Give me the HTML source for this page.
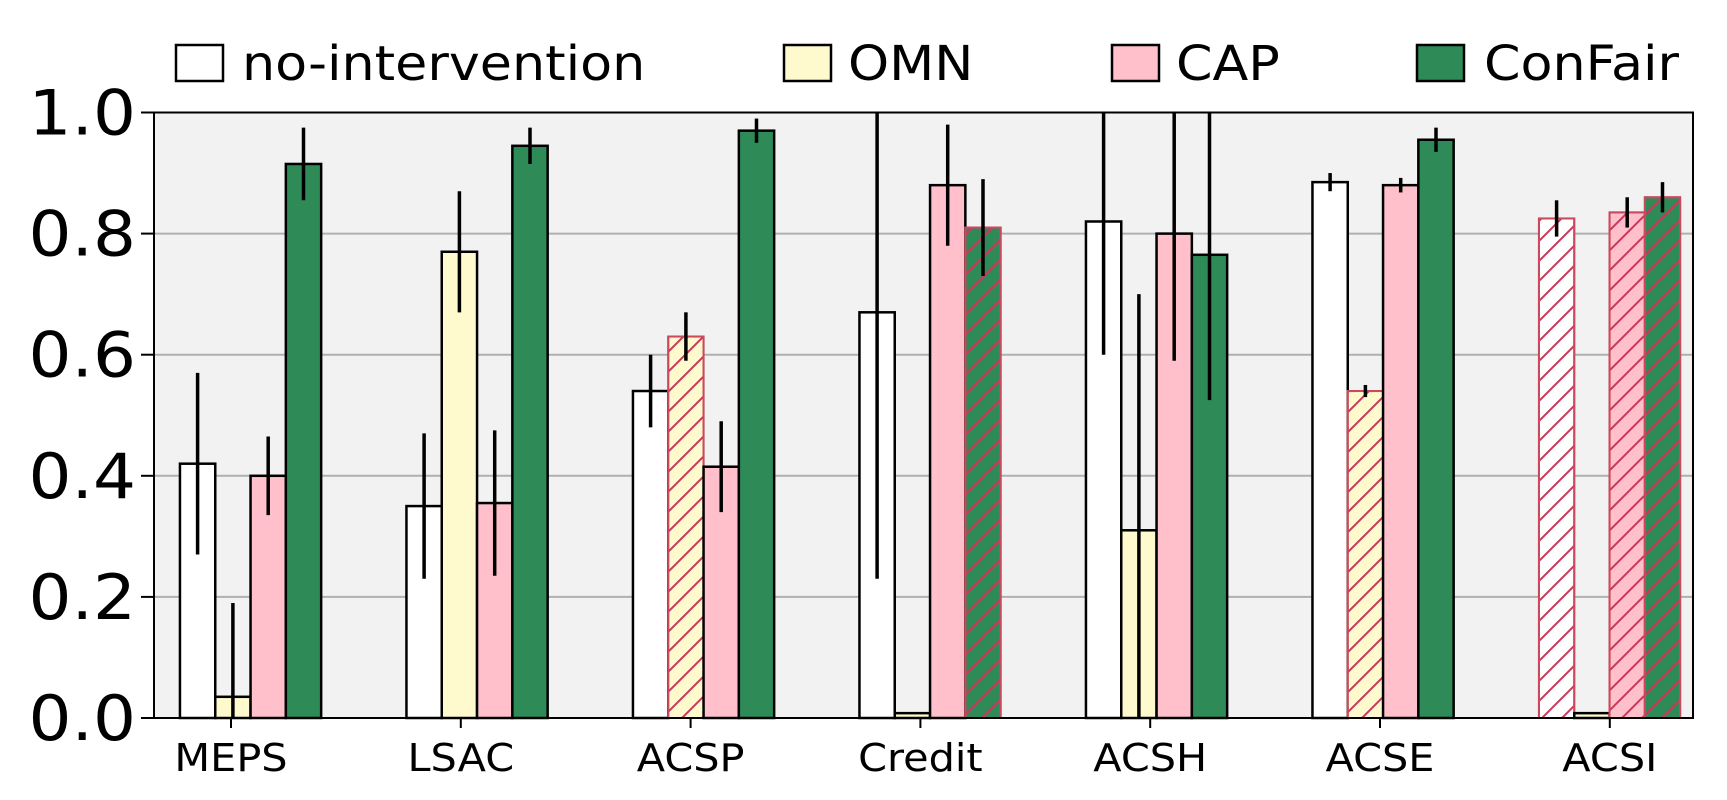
<!DOCTYPE html>
<html><head><meta charset="utf-8">
<style>
html,body{margin:0;padding:0;background:#fff;}
svg{display:block;font-family:"DejaVu Sans","Liberation Sans",sans-serif;}
</style></head>
<body>
<svg id="chart" width="1727" height="800" viewBox="0 0 1727 800" xmlns="http://www.w3.org/2000/svg">
<defs>
<pattern id="hatch" patternUnits="userSpaceOnUse" width="20" height="20">
<path d="M-2,2 L2,-2 M0,20 L20,0 M18,22 L22,18" stroke="#c8385a" stroke-width="2"/>
</pattern>
</defs>
<rect x="154" y="112.5" width="1539" height="605.5" fill="#f2f2f2"/>
<g id="grid"></g>
<g id="bars"></g>
<g id="axes"></g>
<g id="legend"></g>
</svg>
<script>
const categories = ["MEPS","LSAC","ACSP","Credit","ACSH","ACSE","ACSI"];
const seriesNames = ["no-intervention","OMN","CAP","ConFair"];
const noIntervention = [0.42,0.35,0.54,0.67,0.82,0.885,0.825];
const noInterventionErr = [0.15,0.12,0.06,0.44,0.22,0.015,0.03];
const omn = [0.035,0.77,0.63,0.008,0.31,0.54,0.008];
const omnErr = [0.155,0.10,0.04,0,0.39,0.01,0];
const cap = [0.40,0.355,0.415,0.88,0.80,0.88,0.835];
const capErr = [0.065,0.12,0.075,0.10,0.21,0.012,0.025];
const confair = [0.915,0.945,0.97,0.81,0.765,0.955,0.86];
const confairErr = [0.06,0.03,0.02,0.08,0.24,0.02,0.025];
const hatched = [[false,false,false,false,false,false,true],[false,false,true,false,false,true,false],[false,false,false,false,false,false,true],[false,false,false,true,false,false,true]];
const yTicks = [0,0.2,0.4,0.6,0.8,1.0];
const yTickLabels = ["0.0","0.2","0.4","0.6","0.8","1.0"];

const NS="http://www.w3.org/2000/svg";
const L=154,R=1693,T=112.5,B=718;
const y = v => B - v*(B-T);
const tick0 = 231, tickStep = 229.8, bar0 = 197.6, barStep = 226.5, bw = 35.3;
const xt = i => tick0 + i*tickStep;
const xb = (i,s) => bar0 + i*barStep + s*bw;
const fills = ["#ffffff","#fffacd","#ffc0cb","#2e8b57"];
const vals = [noIntervention,omn,cap,confair];
const errs = [noInterventionErr,omnErr,capErr,confairErr];
const SX = 1.09;
function mk(tag,attrs,parent){const e=document.createElementNS(NS,tag);for(const k in attrs)e.setAttribute(k,attrs[k]);parent.appendChild(e);return e;}
function txt(x,yy,anchor,size,str,parent){
  const t=mk('text',{x:0,y:0,'text-anchor':anchor,'font-size':size,fill:'#000',transform:`translate(${x},${yy}) scale(${SX},1)`},parent);
  t.textContent=str;return t;
}

const grid=document.getElementById('grid');
yTicks.forEach((t,i)=>{
  if(t>0&&t<1){const g=mk('line',{x1:L,x2:R,y1:y(t),y2:y(t),stroke:'#b0b0b0','stroke-width':2},grid);
  
  }
});

const bars=document.getElementById('bars');
categories.forEach((c,i)=>{
  for(let s=0;s<4;s++){
    const v=vals[s][i], cx=xb(i,s), top=y(v);
    const h=hatched[s][i];
    const r=mk('rect',{x:cx-bw/2,y:top,width:bw,height:B-top,fill:fills[s],stroke:h?'#c94a5e':'#000','stroke-width':h?2:2.5},bars);
    
    
    if(h){const p=mk('rect',{x:cx-bw/2,y:top,width:bw,height:B-top,fill:'url(#hatch)',stroke:'#c94a5e','stroke-width':2},bars);
      
      }
    const e=errs[s][i];
    if(e>0){
      const y1=Math.max(T,y(v+e)), y2=Math.min(B,y(v-e));
      const el=mk('line',{x1:cx,x2:cx,y1:y1,y2:y2,stroke:'#000','stroke-width':3.5},bars);
      
      
    }
  }
});

const axes=document.getElementById('axes');
const fr=mk('rect',{x:L,y:T,width:R-L,height:B-T,fill:'none',stroke:'#000','stroke-width':2},axes);


yTicks.forEach((t,i)=>{
  const tk=mk('line',{x1:L-13,x2:L,y1:y(t),y2:y(t),stroke:'#000','stroke-width':2},axes);
  
  
  const tx=txt(L-18,y(t)+22,'end',62,yTickLabels[i],axes);
  
  
});
categories.forEach((c,i)=>{
  const tk=mk('line',{x1:xt(i),x2:xt(i),y1:B,y2:B+10,stroke:'#000','stroke-width':2},axes);
  
  
  const tx=txt(xt(i),771,'middle',38,c,axes);
  
  
});

const legend=document.getElementById('legend');
const legBoxX=[176,784,1112,1417];
const legTextX=[242,848,1176,1484];
seriesNames.forEach((n,s)=>{
  const b=mk('rect',{x:legBoxX[s],y:45,width:47,height:36,fill:fills[s],stroke:'#000','stroke-width':2.5},legend);
  
  
  const t=txt(legTextX[s],80,'start',48,n,legend);
  
  
});
</script>
</body></html>
